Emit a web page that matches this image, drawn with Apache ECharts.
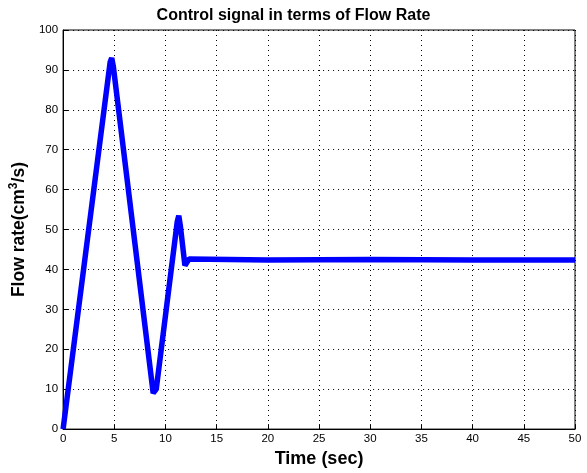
<!DOCTYPE html>
<html><head><meta charset="utf-8">
<script src="https://cdn.jsdelivr.net/npm/echarts@6/dist/echarts.min.js"></script>
<style>html,body{margin:0;padding:0;background:#fff}#c{width:587px;height:473px}</style>
</head><body><div id="c"></div>
<script>
var timeSec = [0, 0.2, 4.6, 4.75, 4.9, 8.8, 8.95, 9.1, 11.15, 11.3, 11.45, 11.9, 12.0, 12.3, 20, 30, 40, 50];
var flowRate = [0, 4, 92, 93, 91, 9, 8.5, 10, 52, 53.5, 51, 41, 40.5, 42.6, 42.4, 42.5, 42.4, 42.4];
var xTicks = [0,5,10,15,20,25,30,35,40,45,50];
var yTicks = [0,10,20,30,40,50,60,70,80,90,100];

var data = timeSec.map(function(t,i){return [t, flowRate[i]];});
var chart = echarts.init(document.getElementById('c'));
var tickFont = {fontFamily:'Liberation Sans', fontSize:11.5, color:'#000'};
chart.setOption({
  animation:false,
  backgroundColor:'#fff',
  title:{text:'Control signal in terms of Flow Rate', left:'center', top:3,
    textStyle:{fontFamily:'Liberation Sans', fontWeight:'bold', fontSize:16, color:'#000'}},
  grid:{left:62, right:12, top:30, bottom:39, show:true, borderColor:'#000', borderWidth:1, backgroundColor:'#fff'},
  xAxis:{type:'value', min:0, max:50, interval:5,
    name:'Time (sec)', nameLocation:'middle', nameGap:20,
    nameTextStyle:{fontFamily:'Liberation Sans', fontWeight:'bold', fontSize:18, color:'#000'},
    axisLine:{lineStyle:{color:'#000'}},
    axisTick:{inside:true, length:5, lineStyle:{color:'#000'}},
    axisLabel:Object.assign({margin:4}, tickFont),
    splitLine:{show:true, lineStyle:{color:'#000', type:[1,4], width:1}}},
  yAxis:{type:'value', min:0, max:100, interval:10,
    name:'{a|Flow rate(cm}{s|3}{a|/s)}', nameLocation:'middle', nameGap:24,
    nameTextStyle:{rich:{
      a:{fontFamily:'Liberation Sans', fontWeight:'bold', fontSize:17.5, color:'#000'},
      s:{fontFamily:'Liberation Sans', fontWeight:'bold', fontSize:12, color:'#000', verticalAlign:'top', padding:[0,0,10,0]}}},
    axisLine:{lineStyle:{color:'#000'}},
    axisTick:{inside:true, length:5, lineStyle:{color:'#000'}},
    axisLabel:Object.assign({margin:5}, tickFont),
    splitLine:{show:true, lineStyle:{color:'#000', type:[1,4], width:1}}},
  series:[{type:'line', data:data, showSymbol:false, symbol:'none',
    lineStyle:{color:'#0000ff', width:5.5}, itemStyle:{color:'#0000ff'}}]
});
</script></body></html>
